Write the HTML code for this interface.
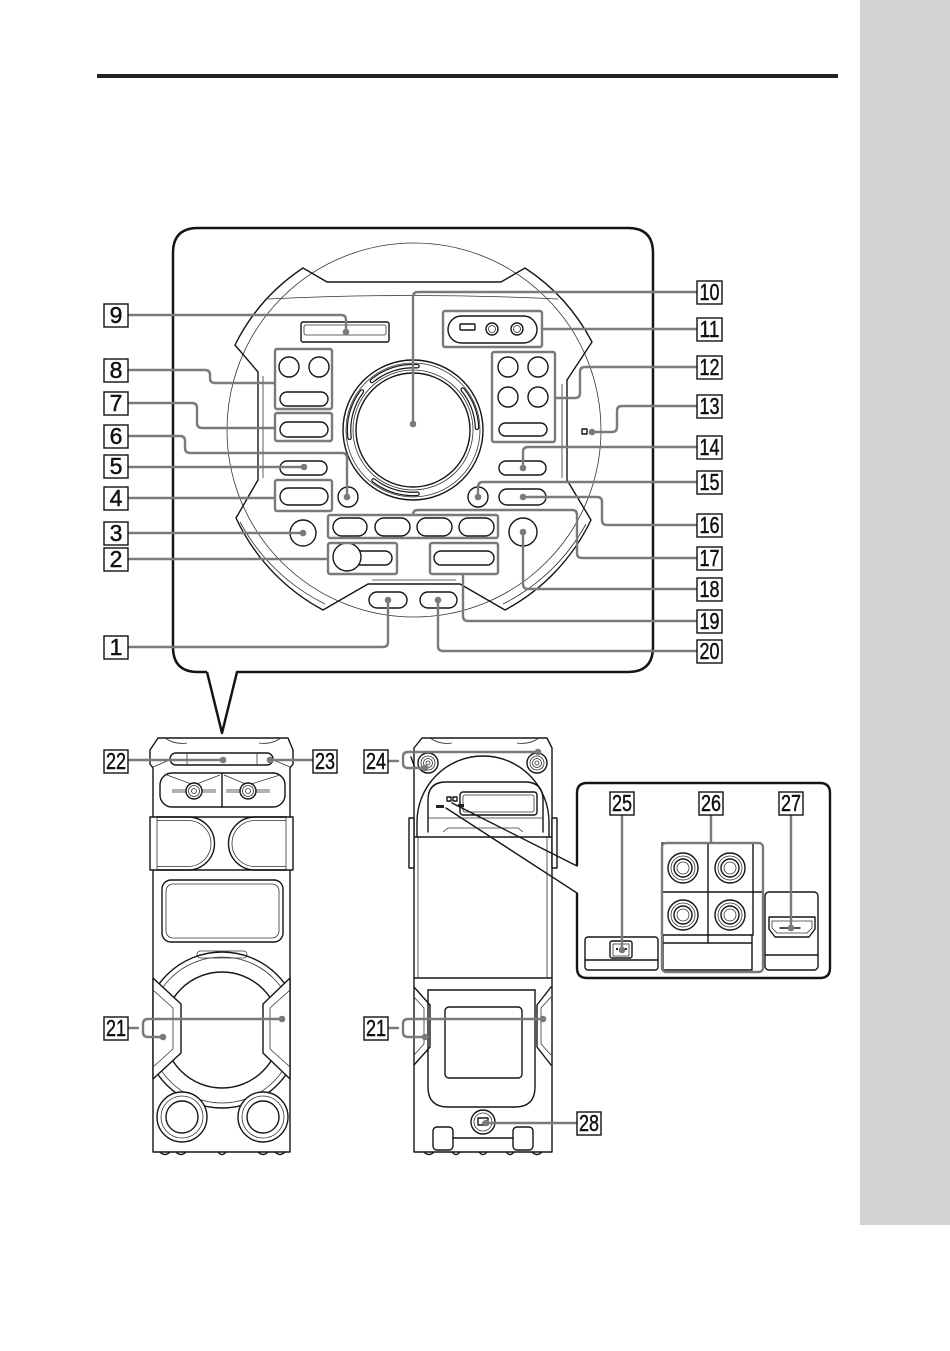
<!DOCTYPE html>
<html><head><meta charset="utf-8">
<style>
html,body{margin:0;padding:0;background:#fff;}
svg{display:block;}
text{font-family:"Liberation Sans",Arial,sans-serif;font-size:23px;fill:#111;stroke:#111;stroke-width:0.45;}
.o{fill:none;stroke:#151515;stroke-width:1.4;stroke-linejoin:round;stroke-linecap:round;}
.w{fill:#fff;stroke:#151515;stroke-width:1.4;stroke-linejoin:round;}
.t{fill:none;stroke:#333;stroke-width:0.8;}
.g{fill:none;stroke:#7a7a7a;stroke-width:2.4;stroke-linejoin:round;stroke-linecap:round;}
.fr{fill:none;stroke:#7a7a7a;stroke-width:2.4;}
.d{fill:#7a7a7a;}
.lb{fill:#fff;stroke:#111;stroke-width:1.4;}
</style></head><body>
<svg width="950" height="1351" viewBox="0 0 950 1351" xmlns="http://www.w3.org/2000/svg">
<rect x="860" y="0" width="90" height="1225" fill="#d3d3d3"/>
<rect x="97" y="74" width="741" height="4" fill="#222"/>

<!-- callout panel -->
<path d="M207,672 H198 Q173,672 173,647 V253 Q173,228 198,228 H628 Q653,228 653,253 V647 Q653,672 628,672 H237 L222,733 L207,672" fill="none" stroke="#151515" stroke-width="2.5" stroke-linejoin="round"/>

<!-- device body -->
<circle cx="414" cy="430" r="187" class="t"/>
<path d="M268,299 Q413,292 558,299" class="t"/>
<path d="M303,268 A198,198 0 0 0 235,345 L258,372 L258,480 L236,518 A200,200 0 0 0 323,610 L368,584 L460,584 L505,610 A200,200 0 0 0 591,520 L567,480 L567,380 L592,342 A198,198 0 0 0 525,268 L501,282 L327,282 Z" class="o" stroke-width="1.6"/>
<path d="M263,376 V478" class="t"/>
<path d="M562,384 V478" class="t"/>
<path d="M240,522 A194,194 0 0 0 325,604" class="t"/>
<path d="M503,604 A194,194 0 0 0 586,524" class="t"/>
<path d="M372,580 H456" class="t"/>

<!-- jog dial -->
<circle cx="413" cy="430" r="70" class="o" stroke-width="1.6"/>
<circle cx="413" cy="430" r="67" class="t"/>
<circle cx="413" cy="430" r="60" class="t"/>
<circle cx="413" cy="430" r="57" class="o"/>
<g fill="none" stroke-linecap="round">
<path d="M349.5,437.8 A64,64 0 0 1 361.9,391.5" stroke="#151515" stroke-width="4.6"/>
<path d="M371.9,381 A64,64 0 0 1 417.5,366.2" stroke="#151515" stroke-width="4.6"/>
<path d="M462.7,389.7 A64,64 0 0 1 477,427.8" stroke="#151515" stroke-width="4.6"/>
<path d="M417.5,493.8 A64,64 0 0 1 373.6,480.4" stroke="#151515" stroke-width="4.6"/>
<path d="M349.5,437.8 A64,64 0 0 1 361.9,391.5" stroke="#fff" stroke-width="2.2"/>
<path d="M371.9,381 A64,64 0 0 1 417.5,366.2" stroke="#fff" stroke-width="2.2"/>
<path d="M462.7,389.7 A64,64 0 0 1 477,427.8" stroke="#fff" stroke-width="2.2"/>
<path d="M417.5,493.8 A64,64 0 0 1 373.6,480.4" stroke="#fff" stroke-width="2.2"/>
</g>

<!-- controls left -->
<rect x="301" y="322" width="88" height="20" rx="2" class="o" stroke-width="1.2"/>
<rect x="304" y="325" width="82" height="10" rx="2" class="t"/>
<circle cx="289" cy="367" r="10" class="o" stroke-width="1.1"/>
<circle cx="319" cy="367" r="10" class="o" stroke-width="1.1"/>
<rect x="280" y="392" width="48" height="14" rx="7" class="o" stroke-width="1.1"/>
<rect x="280" y="422" width="48" height="15" rx="7.5" class="o" stroke-width="1.1"/>
<rect x="280" y="461" width="47" height="14" rx="7" class="o" stroke-width="1.1"/>
<rect x="280" y="488" width="48" height="17" rx="8.5" class="o" stroke-width="1.1"/>
<circle cx="348" cy="497" r="10" class="o" stroke-width="1.1"/>
<circle cx="303" cy="533" r="13" class="o" stroke-width="1.1"/>
<rect x="333" y="518" width="34" height="18" rx="9" class="o" stroke-width="1.8"/>
<rect x="375" y="518" width="35" height="18" rx="9" class="o" stroke-width="1.8"/>
<rect x="417" y="518" width="35" height="18" rx="9" class="o" stroke-width="1.8"/>
<rect x="459" y="518" width="35" height="18" rx="9" class="o" stroke-width="1.8"/>
<rect x="350" y="551" width="42" height="14" rx="7" class="o" stroke-width="1.1"/>
<circle cx="347" cy="557" r="14" class="w" stroke-width="1.1"/>
<rect x="434" y="551" width="60" height="14" rx="7" class="o" stroke-width="1.1"/>
<rect x="369" y="592" width="38" height="16" rx="8" class="o" stroke-width="1.8"/>
<rect x="420" y="592" width="37" height="16" rx="8" class="o" stroke-width="1.8"/>
<!-- controls right -->
<rect x="448" y="316" width="89" height="27" rx="13.5" class="o" stroke-width="1.2"/>
<rect x="460" y="324" width="15" height="6" rx="1" class="o" stroke-width="1"/>
<circle cx="492" cy="329" r="6" class="o" stroke-width="1"/><circle cx="492" cy="329" r="3.5" class="t"/>
<circle cx="517" cy="329" r="6" class="o" stroke-width="1"/><circle cx="517" cy="329" r="3.5" class="t"/>
<circle cx="508" cy="367" r="10" class="o" stroke-width="1.1"/>
<circle cx="538" cy="367" r="10" class="o" stroke-width="1.1"/>
<circle cx="508" cy="397" r="10" class="o" stroke-width="1.1"/>
<circle cx="538" cy="397" r="10" class="o" stroke-width="1.1"/>
<rect x="499" y="423" width="48" height="13" rx="6.5" class="o" stroke-width="1.1"/>
<rect x="582" y="429" width="5" height="5" class="o" stroke-width="1"/>
<rect x="499" y="461" width="47" height="14" rx="7" class="o" stroke-width="1.1"/>
<rect x="499" y="489" width="47" height="16" rx="8" class="o" stroke-width="1.1"/>
<circle cx="478" cy="497" r="10" class="o" stroke-width="1.1"/>
<circle cx="523" cy="532" r="14" class="o" stroke-width="1.1"/>

<!-- group frames -->
<rect x="275" y="349" width="57" height="60" rx="2" class="fr"/>
<rect x="275" y="413" width="57" height="28" rx="2" class="fr"/>
<rect x="275" y="480" width="57" height="31" rx="2" class="fr"/>
<rect x="492" y="352" width="63" height="90" rx="2" class="fr"/>
<rect x="443" y="311" width="99" height="36" rx="2" class="fr"/>
<rect x="328" y="515" width="170" height="23" rx="2" class="fr"/>
<rect x="328" y="543" width="69" height="31" rx="2" class="fr"/>
<rect x="430" y="543" width="68" height="31" rx="2" class="fr"/>

<!-- leaders top panel -->
<path class="g" d="M697,292 H418 Q413,292 413,297 V424"/>
<path class="g" d="M697,329 H542"/>
<path class="g" d="M697,367 H585 Q580,367 580,372 V393 Q580,398 575,398 H555"/>
<path class="g" d="M697,406 H622 Q617,406 617,411 V427 Q617,432 612,432 H592"/>
<path class="g" d="M697,447 H528 Q523,447 523,452 V468"/>
<path class="g" d="M697,482 H483 Q478,482 478,487 V497"/>
<path class="g" d="M697,525 H607 Q602,525 602,520 V502 Q602,497 597,497 H523"/>
<path class="g" d="M697,558 H582 Q577,558 577,553 V515 Q577,510 572,510 H418 Q413,510 413,515"/>
<path class="g" d="M697,589 H528 Q523,589 523,584 V532"/>
<path class="g" d="M697,621 H468 Q463,621 463,616 V574"/>
<path class="g" d="M697,651 H443 Q438,651 438,646 V600"/>
<path class="g" d="M128,315 H341 Q346,315 346,320 V332"/>
<path class="g" d="M128,370 H205 Q210,370 210,375 V378 Q210,383 215,383 H275"/>
<path class="g" d="M128,403 H192 Q197,403 197,408 V423 Q197,428 202,428 H275"/>
<path class="g" d="M128,436 H180 Q185,436 185,441 V448 Q185,453 190,453 H342 Q347,453 347,458 V497"/>
<path class="g" d="M128,467 H304"/>
<path class="g" d="M128,498 H275"/>
<path class="g" d="M128,533 H303"/>
<path class="g" d="M128,559 H328"/>
<path class="g" d="M128,647 H383 Q388,647 388,642 V600"/>
<g class="d">
<circle cx="413" cy="424" r="3.3"/><circle cx="592" cy="432" r="3.3"/><circle cx="523" cy="468" r="3.3"/>
<circle cx="478" cy="497" r="3.3"/><circle cx="523" cy="497" r="3.3"/><circle cx="523" cy="532" r="3.3"/>
<circle cx="438" cy="600" r="3.3"/><circle cx="388" cy="600" r="3.3"/><circle cx="346" cy="332" r="3.3"/>
<circle cx="347" cy="497" r="3.3"/><circle cx="304" cy="467" r="3.3"/><circle cx="303" cy="533" r="3.3"/>
</g>

<!-- LEFT SPEAKER -->
<path d="M158,738 H288 L293,750 V764 L290,768 V1152 H153 V768 L150,764 V750 Z" class="w" stroke-width="1.6"/>
<path d="M165,738 Q175,745 187,743 M281,738 Q271,745 259,743" class="t"/>
<path d="M153,767 L172,759 M290,767 L271,759" class="t"/>
<rect x="170" y="753" width="103" height="12" rx="6" class="o" stroke-width="1.1"/>
<path d="M187,753 V765 M257,753 V765" class="t"/>
<rect x="160" y="773" width="125" height="34" rx="12" class="o" stroke-width="1.3"/>
<path d="M222,773 V807" class="o" stroke-width="1"/>
<path d="M167,775 L194,785 L220,775 M224,775 L248,785 L280,775" class="t"/>
<path d="M172,790 H216 M172,792 H216 M226,790 H270 M226,792 H270" class="t"/>
<circle cx="194" cy="791" r="8" class="w" stroke-width="1"/><circle cx="194" cy="791" r="5.5" class="t"/><circle cx="194" cy="791" r="2.5" class="t"/>
<circle cx="248" cy="791" r="8" class="w" stroke-width="1"/><circle cx="248" cy="791" r="5.5" class="t"/><circle cx="248" cy="791" r="2.5" class="t"/>
<rect x="150" y="817" width="143" height="53" class="w" stroke-width="1.4"/>
<path d="M157,817 V870 M286,817 V870" class="t"/>
<path d="M157,817 H188 A26.5,26.5 0 0 1 188,870 H157" class="o" stroke-width="1.2"/>
<path d="M157,820.5 H188 A23,23 0 0 1 188,866.5 H157" class="t"/>
<path d="M286,817 H255 A26.5,26.5 0 0 0 255,870 H286" class="o" stroke-width="1.2"/>
<path d="M286,820.5 H255 A23,23 0 0 0 255,866.5 H286" class="t"/>
<rect x="162" y="880" width="121" height="62" rx="9" class="o" stroke-width="1.2"/>
<rect x="166" y="884" width="113" height="54" rx="7" class="t"/>
<clipPath id="lsb"><rect x="153" y="945" width="137" height="207"/></clipPath>
<g clip-path="url(#lsb)">
<circle cx="222" cy="1030" r="78" class="o" stroke-width="1.3"/>
<circle cx="222" cy="1030" r="73" class="t"/>
<circle cx="222" cy="1030" r="58" class="o" stroke-width="1.3"/>
<rect x="197" y="951" width="50" height="7" rx="3.5" class="t"/>
</g>
<path d="M153,978 L181,1004 V1053 L153,1079 Z" class="w" stroke-width="1.3"/>
<path d="M153,990 L173,1008 V1049 L153,1067" class="t"/>
<path d="M290,978 L263,1004 V1053 L290,1079 Z" class="w" stroke-width="1.3"/>
<path d="M290,990 L270,1008 V1049 L290,1067" class="t"/>
<circle cx="182" cy="1117" r="25" class="w" stroke-width="1.1"/><circle cx="182" cy="1117" r="21" class="t"/><circle cx="182" cy="1117" r="16" class="o" stroke-width="1.3"/>
<circle cx="263" cy="1117" r="25" class="w" stroke-width="1.1"/><circle cx="263" cy="1117" r="21" class="t"/><circle cx="263" cy="1117" r="16" class="o" stroke-width="1.3"/>
<path d="M160,1152 Q165,1157 170,1152 M176,1152 Q181,1157 186,1152 M218,1152 Q222,1157 226,1152 M258,1152 Q263,1157 268,1152 M275,1152 Q280,1157 285,1152" class="o" stroke-width="1"/>

<!-- RIGHT SPEAKER -->
<path d="M422,738 H547 L552,748 V1152 H414 V748 Z" class="w" stroke-width="1.6"/>
<path d="M430,738 Q440,745 452,743 M539,738 Q529,745 517,743" class="t"/>
<path d="M411,757 L415,768" class="o" stroke-width="1.1"/>
<circle cx="428" cy="763" r="10" class="o" stroke-width="0.9"/><circle cx="428" cy="763" r="7" class="t"/><circle cx="428" cy="763" r="4.5" class="t"/><circle cx="428" cy="763" r="2" class="t"/>
<circle cx="537" cy="763" r="10" class="o" stroke-width="0.9"/><circle cx="537" cy="763" r="7" class="t"/><circle cx="537" cy="763" r="4.5" class="t"/><circle cx="537" cy="763" r="2" class="t"/>
<path d="M417,837 V822 A66,66 0 0 1 549,822 V837" class="w" stroke-width="1.5"/>
<path d="M428,832 V800 Q428,782 446,782 H525 Q543,782 543,800 V832" class="o" stroke-width="1.1"/>
<path d="M428,818 H543" class="t"/>
<rect x="460" y="792" width="77" height="23" rx="3" class="o" stroke-width="1"/>
<rect x="463" y="795" width="71" height="17" rx="2" class="t"/>
<rect x="447" y="797" width="4" height="4" class="o" stroke-width="0.9"/>
<rect x="453" y="797" width="4" height="4" class="o" stroke-width="0.9"/>
<rect x="436" y="805" width="8" height="3" fill="#222"/>
<rect x="458" y="804" width="6" height="3" fill="#222"/>
<path d="M414,837 H551" class="o"/>
<path d="M443,832 L448,828 H518 L523,832" class="t"/>
<rect x="409" y="818" width="5" height="50" class="w" stroke-width="1.1"/>
<rect x="552" y="818" width="5" height="50" class="w" stroke-width="1.1"/>
<path d="M418,837 V978 M547,837 V978" class="t"/>
<path d="M414,978 H551" class="o"/>
<path d="M428,990 H535" class="o" stroke-width="1.1"/>
<path d="M428,990 V1087 Q428,1107 448,1107 H515 Q535,1107 535,1087 V990" class="o" stroke-width="1.1"/>
<path d="M414,987 L430,1005 V1047 L414,1065" class="o" stroke-width="1.2"/>
<path d="M414,997 L424,1008 V1044 L414,1055" class="t"/>
<path d="M551,987 L537,1005 V1047 L551,1065" class="o" stroke-width="1.2"/>
<path d="M551,997 L541,1008 V1044 L551,1055" class="t"/>
<rect x="445" y="1007" width="77" height="71" rx="4" class="o" stroke-width="1.3"/>
<circle cx="483" cy="1122" r="12" class="w" stroke-width="1.1"/><circle cx="483" cy="1122" r="9" class="t"/>
<rect x="478" y="1118" width="10" height="7" class="o" stroke-width="0.9"/>
<rect x="433" y="1127" width="20" height="23" rx="4" class="w" stroke-width="1.2"/>
<rect x="513" y="1127" width="20" height="23" rx="4" class="w" stroke-width="1.2"/>
<path d="M453,1138 H513" class="o" stroke-width="1"/>
<path d="M424,1152 Q429,1157 434,1152 M452,1152 Q456,1157 460,1152 M479,1152 Q483,1157 487,1152 M506,1152 Q510,1157 514,1152 M532,1152 Q537,1157 542,1152" class="o" stroke-width="1"/>

<!-- inset -->
<path d="M452,803 L577,866 M446,808 L577,893" class="o" stroke-width="1.8"/>
<path d="M577,866 V793 Q577,783 587,783 H820 Q830,783 830,793 V968 Q830,978 820,978 H587 Q577,978 577,968 V893" fill="none" stroke="#151515" stroke-width="2.4" stroke-linejoin="round"/>
<rect x="585" y="937" width="73" height="33" rx="3" class="o" stroke-width="1.2"/>
<path d="M585,960 H658" class="o" stroke-width="1"/>
<rect x="610" y="941" width="22" height="17" rx="2" class="o" stroke-width="1.1"/>
<rect x="613" y="944" width="16" height="12" class="t"/>
<rect x="616" y="948" width="2" height="2" fill="#222"/><rect x="625" y="948" width="2" height="2" fill="#222"/>
<rect x="765" y="892" width="53" height="78" rx="4" class="o" stroke-width="1.2"/>
<path d="M765,955 H818" class="o" stroke-width="1"/>
<path d="M769,917 H815 V929 L809,937 H775 L769,929 Z" class="o" stroke-width="1.2"/>
<path d="M772,921 H812 V928 L807,933 H777 L772,928 Z" class="t"/>
<path d="M780,928 H800" class="o" stroke-width="1.6"/>
<path d="M662,843 H753 V935 H662 Z M708,843 V935 M662,892 H763 M753,843 V935" class="o" stroke-width="1"/>
<path d="M663,935 V970 H752 V935 M708,935 V943 M663,943 H752" class="o" stroke-width="1"/>
<g>
<circle cx="683" cy="868" r="15" class="o" stroke-width="1.1"/><circle cx="683" cy="868" r="12" class="t"/><circle cx="683" cy="868" r="9" class="o" stroke-width="1.6"/><circle cx="683" cy="868" r="6" class="t"/>
<circle cx="730" cy="868" r="15" class="o" stroke-width="1.1"/><circle cx="730" cy="868" r="12" class="t"/><circle cx="730" cy="868" r="9" class="o" stroke-width="1.6"/><circle cx="730" cy="868" r="6" class="t"/>
<circle cx="683" cy="915" r="15" class="o" stroke-width="1.1"/><circle cx="683" cy="915" r="12" class="t"/><circle cx="683" cy="915" r="9" class="o" stroke-width="1.6"/><circle cx="683" cy="915" r="6" class="t"/>
<circle cx="730" cy="915" r="15" class="o" stroke-width="1.1"/><circle cx="730" cy="915" r="12" class="t"/><circle cx="730" cy="915" r="9" class="o" stroke-width="1.6"/><circle cx="730" cy="915" r="6" class="t"/>
</g>
<rect x="662" y="843" width="101" height="129" rx="4" class="fr"/>

<!-- leaders bottom -->
<path class="g" d="M128,760 H223"/>
<path class="g" d="M313,760 H270"/>
<path class="g" d="M128,1028 H138 M163,1037 H148 Q143,1037 143,1032 V1024 Q143,1019 148,1019 H282"/>
<path class="g" d="M388,761 H398 M425,768 H408 Q403,768 403,763 V757 Q403,752 408,752 H538"/>
<path class="g" d="M388,1028 H398 M425,1037 H408 Q403,1037 403,1032 V1024 Q403,1019 408,1019 H543"/>
<path class="g" d="M577,1123 H483"/>
<path class="g" d="M622,815 V950"/>
<path class="g" d="M711,815 V843"/>
<path class="g" d="M791,815 V928"/>
<g class="d">
<circle cx="223" cy="760" r="3.3"/><circle cx="270" cy="760" r="3.3"/>
<circle cx="163" cy="1037" r="3.3"/><circle cx="282" cy="1019" r="3.3"/>
<circle cx="425" cy="768" r="3.3"/><circle cx="538" cy="752" r="3.3"/>
<circle cx="425" cy="1037" r="3.3"/><circle cx="543" cy="1019" r="3.3"/>
<circle cx="486" cy="1123" r="3.3"/><circle cx="622" cy="950" r="3.3"/><circle cx="791" cy="928" r="3.3"/>
</g>

<!-- label boxes -->
<g>
<rect class="lb" x="104" y="304" width="24" height="23"/><text x="116" y="323" text-anchor="middle">9</text>
<rect class="lb" x="104" y="359" width="24" height="23"/><text x="116" y="378" text-anchor="middle">8</text>
<rect class="lb" x="104" y="392" width="24" height="23"/><text x="116" y="411" text-anchor="middle">7</text>
<rect class="lb" x="104" y="425" width="24" height="23"/><text x="116" y="444" text-anchor="middle">6</text>
<rect class="lb" x="104" y="455" width="24" height="23"/><text x="116" y="474" text-anchor="middle">5</text>
<rect class="lb" x="104" y="487" width="24" height="23"/><text x="116" y="506" text-anchor="middle">4</text>
<rect class="lb" x="104" y="522" width="24" height="23"/><text x="116" y="541" text-anchor="middle">3</text>
<rect class="lb" x="104" y="548" width="24" height="23"/><text x="116" y="567" text-anchor="middle">2</text>
<rect class="lb" x="104" y="636" width="24" height="23"/><text x="116" y="655" text-anchor="middle">1</text>

<rect class="lb" x="697" y="281" width="25" height="23"/><text x="699.5" y="300" textLength="20" lengthAdjust="spacingAndGlyphs">10</text>
<rect class="lb" x="697" y="318" width="25" height="23"/><text x="699.5" y="337" textLength="20" lengthAdjust="spacingAndGlyphs">11</text>
<rect class="lb" x="697" y="356" width="25" height="23"/><text x="699.5" y="375" textLength="20" lengthAdjust="spacingAndGlyphs">12</text>
<rect class="lb" x="697" y="395" width="25" height="23"/><text x="699.5" y="414" textLength="20" lengthAdjust="spacingAndGlyphs">13</text>
<rect class="lb" x="697" y="436" width="25" height="23"/><text x="699.5" y="455" textLength="20" lengthAdjust="spacingAndGlyphs">14</text>
<rect class="lb" x="697" y="471" width="25" height="23"/><text x="699.5" y="490" textLength="20" lengthAdjust="spacingAndGlyphs">15</text>
<rect class="lb" x="697" y="514" width="25" height="23"/><text x="699.5" y="533" textLength="20" lengthAdjust="spacingAndGlyphs">16</text>
<rect class="lb" x="697" y="547" width="25" height="23"/><text x="699.5" y="566" textLength="20" lengthAdjust="spacingAndGlyphs">17</text>
<rect class="lb" x="697" y="578" width="25" height="23"/><text x="699.5" y="597" textLength="20" lengthAdjust="spacingAndGlyphs">18</text>
<rect class="lb" x="697" y="610" width="25" height="23"/><text x="699.5" y="629" textLength="20" lengthAdjust="spacingAndGlyphs">19</text>
<rect class="lb" x="697" y="640" width="25" height="23"/><text x="699.5" y="659" textLength="20" lengthAdjust="spacingAndGlyphs">20</text>

<rect class="lb" x="104" y="750" width="24" height="23"/><text x="106" y="769" textLength="20" lengthAdjust="spacingAndGlyphs">22</text>
<rect class="lb" x="313" y="750" width="24" height="23"/><text x="315" y="769" textLength="20" lengthAdjust="spacingAndGlyphs">23</text>
<rect class="lb" x="104" y="1017" width="24" height="23"/><text x="106" y="1036" textLength="20" lengthAdjust="spacingAndGlyphs">21</text>
<rect class="lb" x="364" y="750" width="24" height="23"/><text x="366" y="769" textLength="20" lengthAdjust="spacingAndGlyphs">24</text>
<rect class="lb" x="364" y="1017" width="24" height="23"/><text x="366" y="1036" textLength="20" lengthAdjust="spacingAndGlyphs">21</text>
<rect class="lb" x="577" y="1112" width="24" height="23"/><text x="579" y="1131" textLength="20" lengthAdjust="spacingAndGlyphs">28</text>
<rect class="lb" x="610" y="792" width="24" height="23"/><text x="612" y="811" textLength="20" lengthAdjust="spacingAndGlyphs">25</text>
<rect class="lb" x="699" y="792" width="24" height="23"/><text x="701" y="811" textLength="20" lengthAdjust="spacingAndGlyphs">26</text>
<rect class="lb" x="779" y="792" width="24" height="23"/><text x="781" y="811" textLength="20" lengthAdjust="spacingAndGlyphs">27</text>
</g>
</svg>
</body></html>
